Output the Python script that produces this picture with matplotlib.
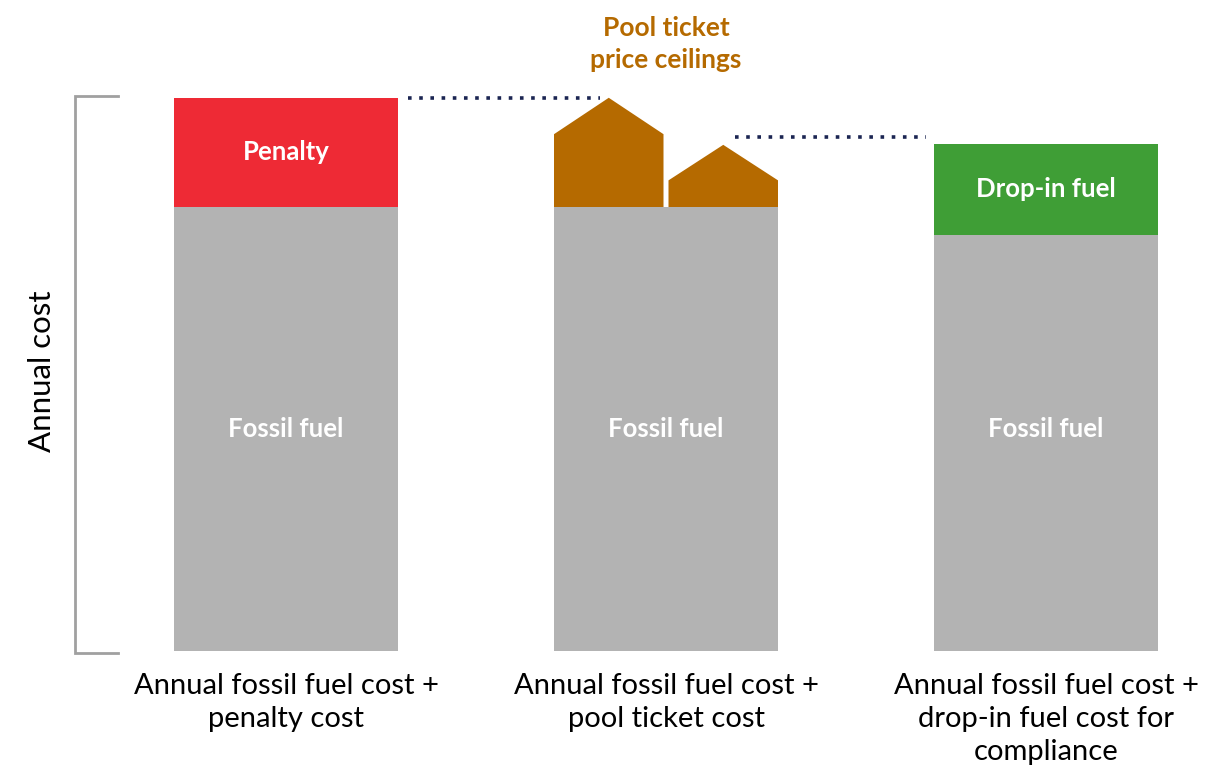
import matplotlib.pyplot as plt
from matplotlib.patches import Polygon

plt.rcParams['font.family'] = ['Lato', 'DejaVu Sans']

# arbitrary cost units, fossil fuel bar of the first scenario = 100
categories = [
    "Annual fossil fuel cost +\npenalty cost",
    "Annual fossil fuel cost +\npool ticket cost",
    "Annual fossil fuel cost +\ndrop-in fuel cost for\ncompliance",
]
fossil_fuel = [100, 100, 93.7]
penalty = 24.6
drop_in = 20.5
# pool ticket ceilings: (shoulder, peak) above the fossil fuel bar
pool_high = (16.4, 24.6)
pool_low = (6.0, 14.0)
drop_in_link = 115.8

GRAY = "#b3b3b3"
RED = "#ee2a35"
ORANGE = "#b56a00"
GREEN = "#3f9e36"
NAVY = "#1b2552"

px = 4.44  # pixels per cost unit
fig = plt.figure(figsize=(12.05, 7.72), dpi=100)
ax = fig.add_axes([0, 121 / 772, 1, (772 - 121) / 772])
ax.set_xlim(-286 / 380, 919 / 380)
ax.set_ylim(0, 651 / px)
ax.axis("off")

width = 224 / 380
x = [0, 1, 2]
ax.bar(x, fossil_fuel, width=width, color=GRAY)
ax.bar(x[0], penalty, bottom=fossil_fuel[0], width=width, color=RED)
ax.bar(x[2], drop_in, bottom=fossil_fuel[2], width=width, color=GREEN)

label_kw = dict(ha="center", va="center", color="white", fontsize=18.5,
                fontweight="bold")
for xi in x:
    ax.text(xi, fossil_fuel[0] / 2, "Fossil fuel", **label_kw)
ax.text(x[0], fossil_fuel[0] + penalty / 2, "Penalty", **label_kw)
ax.text(x[2], fossil_fuel[2] + drop_in / 2, "Drop-in fuel", **label_kw)

# two house-shaped ceilings sitting on the middle bar
gap = 5 / 380
half = width / 2
base = fossil_fuel[1]
for (left, right), (shoulder, peak) in [
    ((x[1] - half, x[1] - gap / 2), pool_high),
    ((x[1] + gap / 2, x[1] + half), pool_low),
]:
    mid = (left + right) / 2
    ax.add_patch(Polygon(
        [(left, base), (left, base + shoulder), (mid, base + peak),
         (right, base + shoulder), (right, base)],
        closed=True, color=ORANGE, lw=0))

ax.text(x[1], 130.5, "Pool ticket\nprice ceilings", ha="center", va="bottom",
        color=ORANGE, fontsize=19, fontweight="bold", linespacing=1.4)

# dotted links between scenario tops
dot = dict(color=NAVY, lw=2.6, linestyle=(0, (1, 2.1)))
ax.plot([x[0] + half + 10 / 380, x[1] - half + 46 / 380],
        [fossil_fuel[0] + penalty] * 2, **dot)
ax.plot([x[1] + half - 43 / 380, x[2] - half - 8 / 380],
        [drop_in_link] * 2, **dot)

# bracket spanning the cost axis
top = fossil_fuel[0] + penalty + 0.5
bx = -211 / 380
tick = 43 / 380
ax.plot([bx + tick, bx, bx, bx + tick], [top, top, -0.5, -0.5],
        color="#a0a0a0", lw=2, solid_joinstyle="miter", clip_on=False)
ax.text(bx - 33 / 380, top / 2 + 0.5, "Annual cost", rotation=90,
        ha="center", va="center", fontsize=22.5)

for xi, label in zip(x, categories):
    ax.text(xi, -22 / px, label, ha="center", va="top", fontsize=21,
            linespacing=1.33)

fig.savefig("out.png", dpi=100)
